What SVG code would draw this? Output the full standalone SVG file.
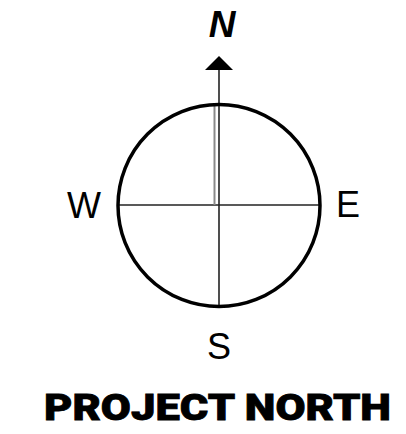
<svg xmlns="http://www.w3.org/2000/svg" width="406" height="434" viewBox="0 0 406 434">
<style>
.lbl{font-family:"Liberation Sans",Arial,sans-serif;font-size:36px;fill:#000}
.ax{stroke:#222;stroke-width:1.6;fill:none}
</style>
<rect width="406" height="434" fill="#fff"/>
<g id="connectors">
<line class="ax" x1="219" y1="68" x2="219" y2="307"/>
<line class="ax" x1="118" y1="205" x2="320" y2="205"/>
<line x1="214.5" y1="104" x2="214.5" y2="205" stroke="#8a8a8a" stroke-width="2"/>
<polygon points="219,56 205,70 233,70" fill="#000"/>
</g>
<g id="compass">
<circle cx="219" cy="205.5" r="101" fill="none" stroke="#000" stroke-width="3.5"/>
</g>
<g id="label-n"><text x="222" y="37" text-anchor="middle" style="font-family:'Liberation Sans',Arial,sans-serif;font-size:37px;font-weight:bold;font-style:italic">N</text></g>
<g id="label-w"><text class="lbl" x="67" y="218">W</text></g>
<g id="label-e"><text class="lbl" x="336" y="217">E</text></g>
<g id="label-s"><text class="lbl" x="219" y="359" text-anchor="middle">S</text></g>
<g id="title"><text x="44" y="420" textLength="347" lengthAdjust="spacingAndGlyphs" style="font-family:Roboto,'DejaVu Sans',sans-serif;font-size:36px;font-weight:900;stroke:#000;stroke-width:0.8">PROJECT NORTH</text></g>
</svg>
